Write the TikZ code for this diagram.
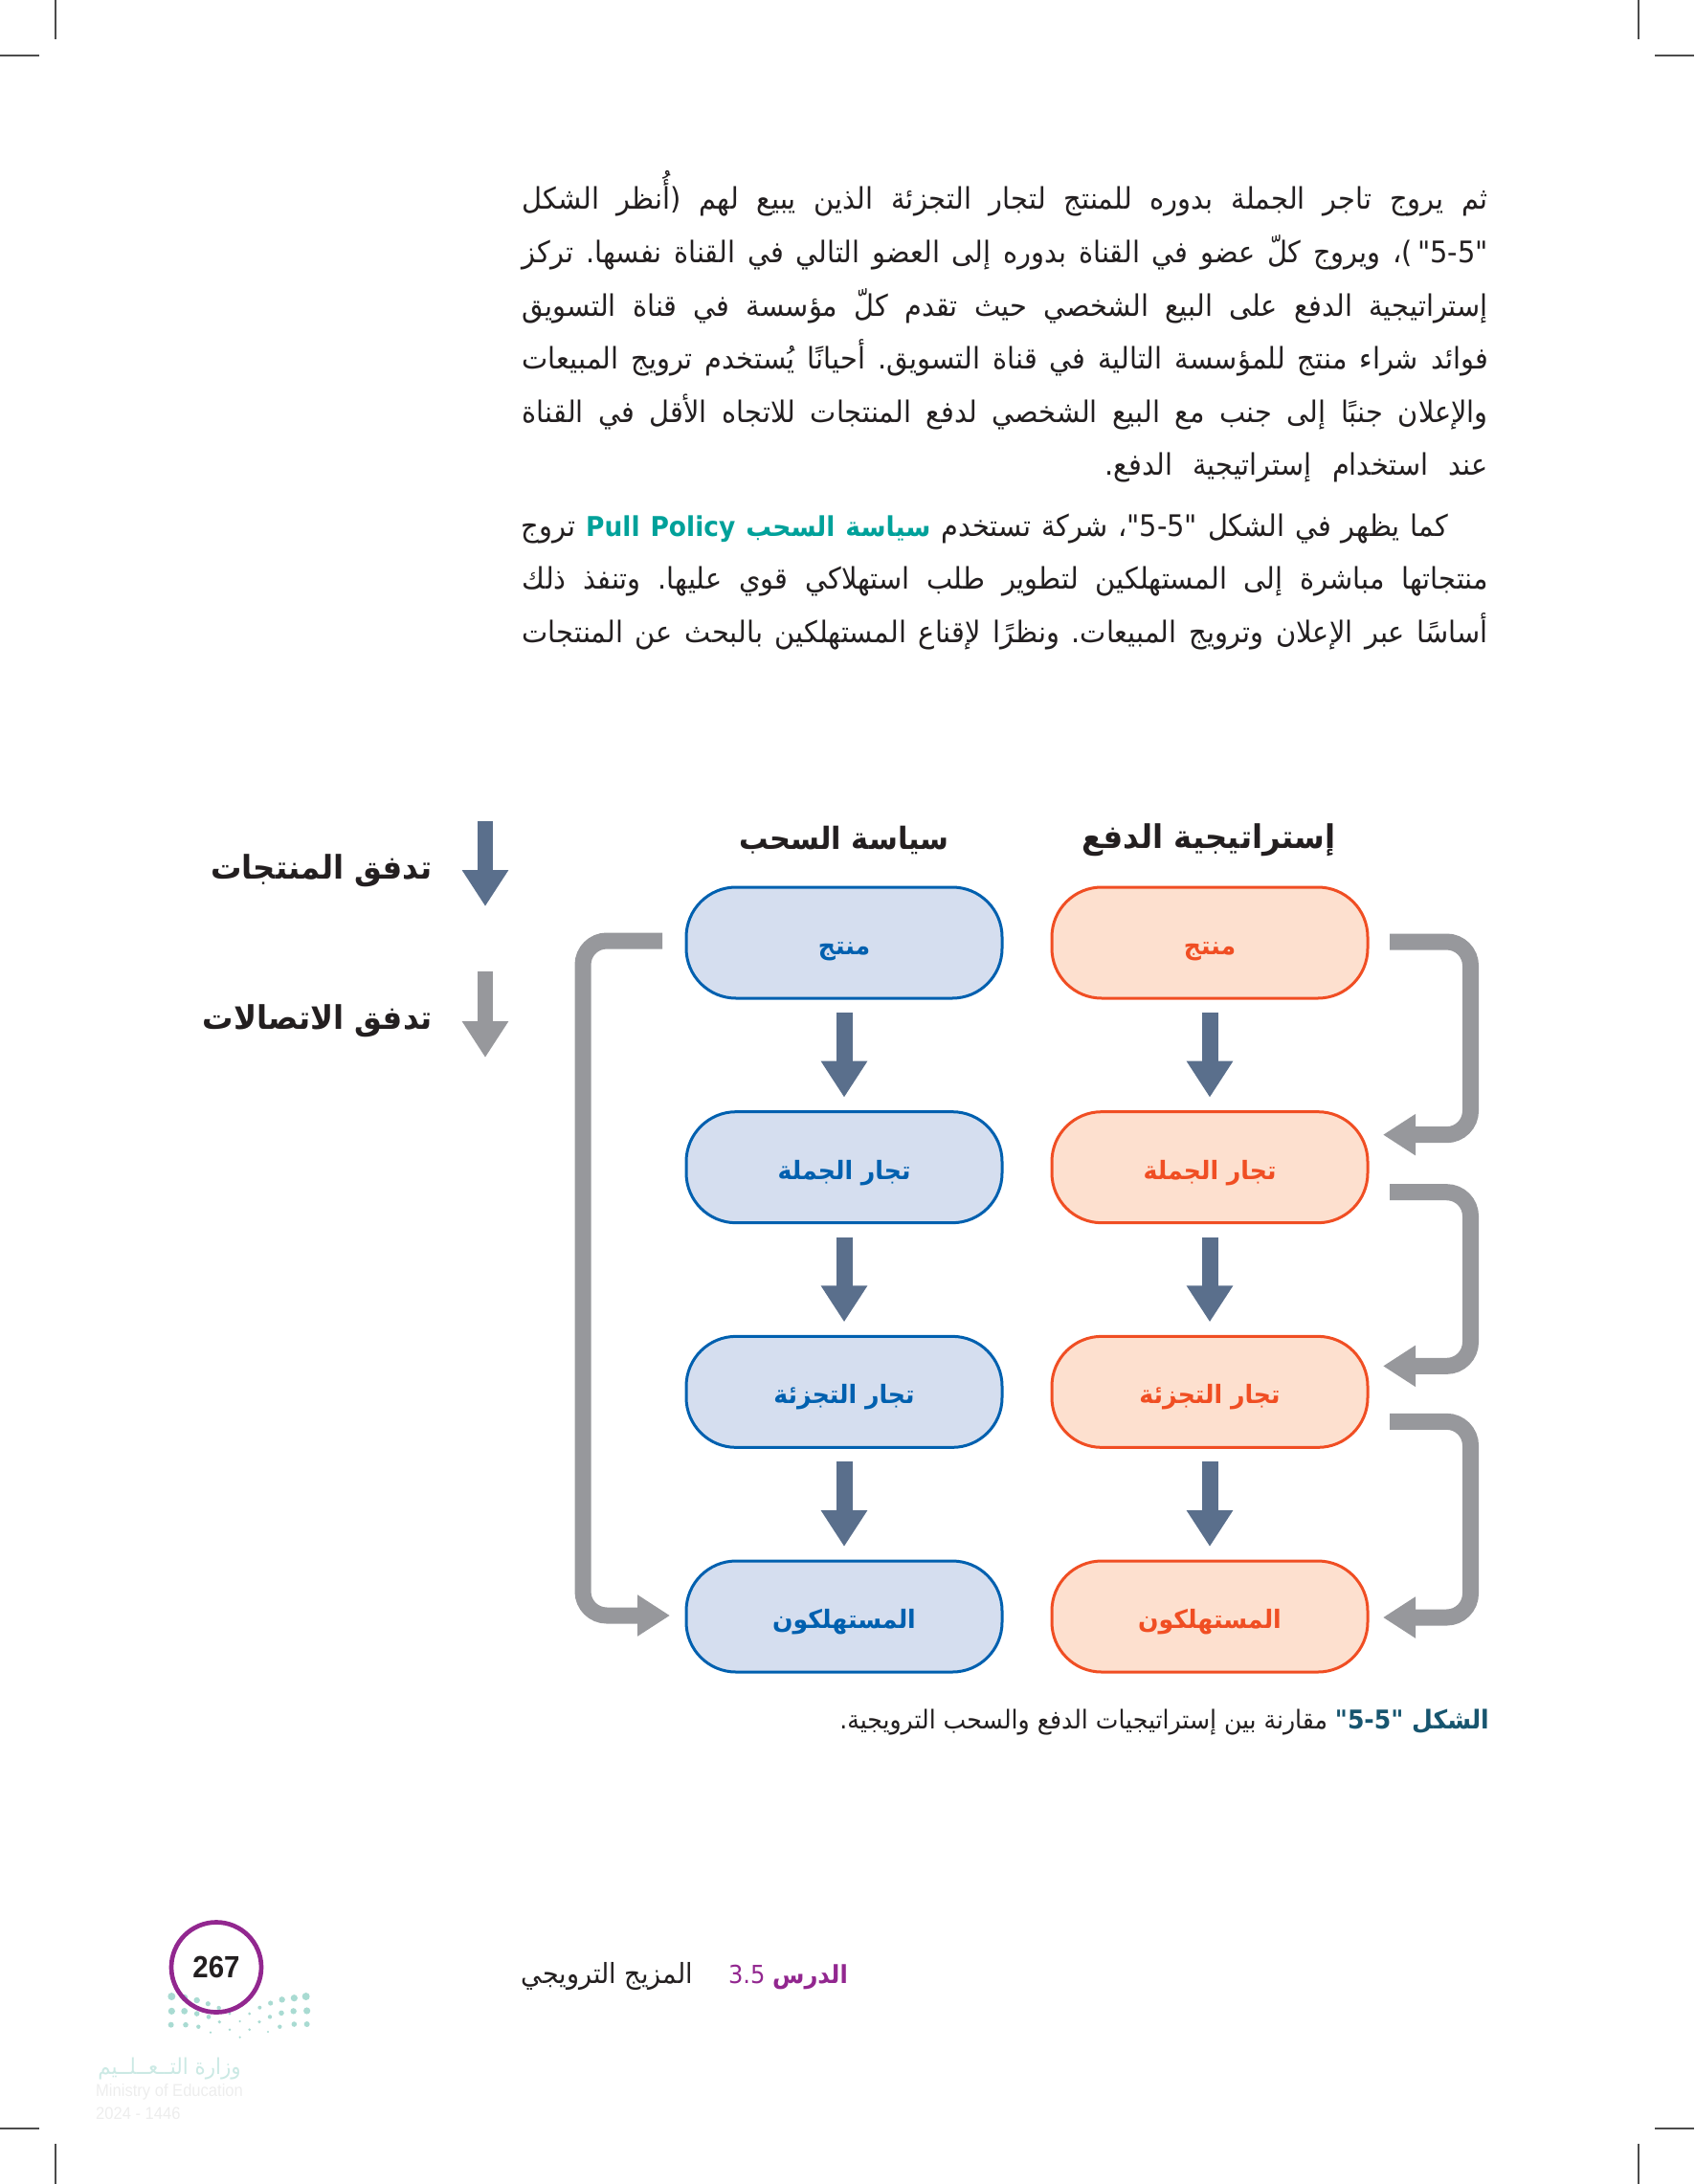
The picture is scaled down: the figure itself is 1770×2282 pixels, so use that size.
\documentclass[tikz,border=0pt]{standalone}
\usepackage{fontspec}
\usetikzlibrary{positioning,arrows.meta}
\TeXXeTstate=1
\frenchspacing
\newfontfamily\bodyfont[Script=Arabic,FakeStretch=.93]{DejaVu Sans}
\newfontfamily\headfont[Script=Arabic,FakeStretch=.95]{DejaVu Sans}
\newfontfamily\numfont[FakeStretch=.92]{Liberation Sans}
\definecolor{pushline}{HTML}{F04E23}
\definecolor{pushfill}{HTML}{FDE0CF}
\definecolor{pullline}{HTML}{0060AF}
\definecolor{pullfill}{HTML}{D5DEEF}
\definecolor{prodslate}{HTML}{5A6F8C}
\definecolor{commgray}{HTML}{97989C}
\definecolor{inkblack}{HTML}{231F20}
\definecolor{accentteal}{HTML}{00A19A}
\definecolor{capteal}{HTML}{17556F}
\definecolor{lessonpurple}{HTML}{92278F}
\definecolor{logoteal}{HTML}{A9DBD2}
\newcommand{\jline}[2]{\hbox to #1{\fontsize{31}{36}\bodyfont #2}}
\begin{document}
\begin{tikzpicture}[x=1pt,y=-1pt,
pushbox/.style={draw=pushline,fill=pushfill,text=pushline,line width=3pt,rounded corners=52pt,minimum width=330pt,minimum height=116pt,outer sep=0pt,text height=35pt,text depth=10pt,font=\fontsize{26.5}{30}\headfont\bfseries},
pullbox/.style={pushbox,draw=pullline,fill=pullfill,text=pullline},
prodarr/.style={-{Triangle[length=38pt,width=46pt]},line width=17pt,draw=prodslate,shorten <=15pt,shorten >=15pt},
legarr/.style={-{Triangle[length=38pt,width=46pt]},line width=16pt},
commarr/.style={-{Triangle[length=34pt,width=41pt]},line width=17pt,draw=commgray,rounded corners=25pt},
bodyln/.style={anchor=base east,inner sep=0pt,text=inkblack},
headtxt/.style={inner sep=0pt,text=inkblack,font=\fontsize{34}{38}\headfont\bfseries},
legtxt/.style={headtxt,anchor=east},
cropln/.style={line width=1.5pt,draw=black!70},
logodot/.style={fill=logoteal}]
\useasboundingbox (0,0) rectangle (1770,2282);
\draw[cropln] (58,0) -- (58,41);
\draw[cropln] (0,58) -- (41,58);
\draw[cropln] (1712,0) -- (1712,41);
\draw[cropln] (1729,58) -- (1770,58);
\draw[cropln] (58,2240) -- (58,2282);
\draw[cropln] (0,2224) -- (41,2224);
\draw[cropln] (1712,2240) -- (1712,2282);
\draw[cropln] (1729,2224) -- (1770,2224);
\node[bodyln] (lineA) at (1555,219) {\jline{1009pt}{\beginR ثم يروج تاجر الجملة بدوره للمنتج لتجار التجزئة الذين يبيع لهم (أُنظر الشكل\endR}};
\node[bodyln] (lineB) at (1555,274) {\jline{1009pt}{\beginR "5-5"\,)، ويروج كلّ عضو في القناة بدوره إلى العضو التالي في القناة نفسها. تركز\endR}};
\node[bodyln] (lineC) at (1555,330) {\jline{1009pt}{\beginR إستراتيجية الدفع على البيع الشخصي حيث تقدم كلّ مؤسسة في قناة التسويق\endR}};
\node[bodyln] (lineD) at (1555,385) {\jline{1009pt}{\beginR فوائد شراء منتج للمؤسسة التالية في قناة التسويق. أحيانًا يُستخدم ترويج المبيعات\endR}};
\node[bodyln] (lineE) at (1555,441) {\jline{1009pt}{\beginR والإعلان جنبًا إلى جنب مع البيع الشخصي لدفع المنتجات للاتجاه الأقل في القناة\endR}};
\node[bodyln] (lineF) at (1555,496) {\jline{400pt}{\beginR عند استخدام إستراتيجية الدفع.\endR}};
\node[bodyln] (lineG) at (1513,560) {\jline{968pt}{\beginR تروج\endR{} {\color{accentteal}\fontsize{28.5}{36}\selectfont\bfseries\beginR سياسة السحب \beginL Pull Policy\endL\endR} \beginR كما يظهر في الشكل "5-5"، شركة تستخدم\endR}};
\node[bodyln] (lineH) at (1555,615) {\jline{1009pt}{\beginR منتجاتها مباشرة إلى المستهلكين لتطوير طلب استهلاكي قوي عليها. وتنفذ ذلك\endR}};
\node[bodyln] (lineI) at (1555,671) {\jline{1009pt}{\beginR أساسًا عبر الإعلان وترويج المبيعات. ونظرًا لإقناع المستهلكين بالبحث عن المنتجات\endR}};
\node[headtxt] (pushhead) at (1263,878) {\beginR إستراتيجية الدفع\endR};
\node[headtxt,font=\fontsize{32}{38}\headfont\bfseries] (pullhead) at (882,878) {\beginR سياسة السحب\endR};
\node[pushbox] (pushA) at (1264,985) {\beginR منتج\endR};
\node[pushbox,below=118.67pt of pushA] (pushB) {\beginR تجار الجملة\endR};
\node[pushbox,below=118.67pt of pushB] (pushC) {\beginR تجار التجزئة\endR};
\node[pushbox,below=118.67pt of pushC] (pushD) {\beginR المستهلكون\endR};
\node[pullbox,left=52pt of pushA] (pullA) {\beginR منتج\endR};
\node[pullbox,left=52pt of pushB] (pullB) {\beginR تجار الجملة\endR};
\node[pullbox,left=52pt of pushC] (pullC) {\beginR تجار التجزئة\endR};
\node[pullbox,left=52pt of pushD] (pullD) {\beginR المستهلكون\endR};
\draw[prodarr] (pushA.south) -- (pushB.north);
\draw[prodarr] (pushB.south) -- (pushC.north);
\draw[prodarr] (pushC.south) -- (pushD.north);
\draw[prodarr] (pullA.south) -- (pullB.north);
\draw[prodarr] (pullB.south) -- (pullC.north);
\draw[prodarr] (pullC.south) -- (pullD.north);
\draw[commarr] ([shift={(23pt,1pt)}]pushA.east) -- ++(84.5,0) |- ([shift={(16pt,34pt)}]pushB.east);
\draw[commarr] ([shift={(23pt,-26pt)}]pushB.east) -- ++(84.5,0) |- ([shift={(16pt,27pt)}]pushC.east);
\draw[commarr] ([shift={(23pt,-31pt)}]pushC.east) -- ++(84.5,0) |- ([shift={(16pt,-1pt)}]pushD.east);
\draw[commarr] ([shift={(-25pt,2pt)}]pullA.west) -- ++(-83,0) |- ([shift={(-17pt,1pt)}]pullD.west);
\coordinate (prodtop) at (507,858);
\coordinate (prodtip) at (507,947);
\coordinate (commtop) at (507,1015);
\coordinate (commtip) at (507,1105);
\draw[legarr,draw=prodslate] (prodtop) -- (prodtip);
\draw[legarr,draw=commgray] (commtop) -- (commtip);
\node[legtxt] (prodlabel) at (452,910) {\beginR تدفق المنتجات\endR};
\node[legtxt] (commlabel) at (452,1067) {\beginR تدفق الاتصالات\endR};
\node[anchor=base east,inner sep=0pt,text=inkblack,font=\fontsize{27}{30}\bodyfont] (caption) at (1556,1806) {\beginR مقارنة بين إستراتيجيات الدفع والسحب الترويجية.\endR{} {\color{capteal}\bfseries\beginR الشكل "5-5"\endR}};
\foreach \dx/\dy/\dr in {268/258/4,308/262/3.6,347/270/3.2,382/281/2.6,416/294/2.2,544/293/2,578/279/2.6,614/268/3.2,652/263/3.6,689/258/4,
268/304/3.6,308/304/3.4,347/312/2.8,384/322/2.4,418/338/1.8,450/312/1.6,512/312/1.6,543/338/1.8,576/322/2.2,612/310/2.8,650/304/3.2,692/303/3.6,
266/347/3,312/347/2.8,352/353/2.2,390/371/1.2,450/362/1.4,482/336/1.2,512/362/1.4,482/386/1.2,570/369/1.2,607/353/2.2,652/345/2.8,692/345/3}
  \fill[logodot] ({90+\dx/3},{2000+\dy/3}) circle[radius=\dr pt];
\node[circle,draw=lessonpurple,line width=4.7pt,minimum size=94pt,inner sep=0pt,text=inkblack,font=\fontsize{32}{36}\numfont\bfseries] (pagenum) at (226,2055.5) {267};
\node[anchor=base east,inner sep=0pt,text=lessonpurple,font=\fontsize{26}{30}\bodyfont] (lessonno) at (886,2072) {\beginR{\bfseries الدرس} \beginL 3.5\endL\endR};
\node[anchor=base east,inner sep=0pt,text=inkblack,font=\fontsize{29}{32}\bodyfont] (lessonname) at (724,2072) {\beginR المزيج الترويجي\endR};
\node[anchor=east,inner sep=0pt,text=logoteal!60,font=\fontsize{23}{28}\bodyfont] (logoar) at (252,2162) {\beginR وزارة التــعــلــيم\endR};
\node[anchor=west,inner sep=0pt,text=black!7,font=\fontsize{18}{20}\numfont] (logoen) at (100,2186) {Ministry of Education};
\node[anchor=west,inner sep=0pt,text=black!7,font=\fontsize{18}{20}\numfont] (logoyear) at (100,2208) {2024 - 1446};
\end{tikzpicture}
\end{document}
